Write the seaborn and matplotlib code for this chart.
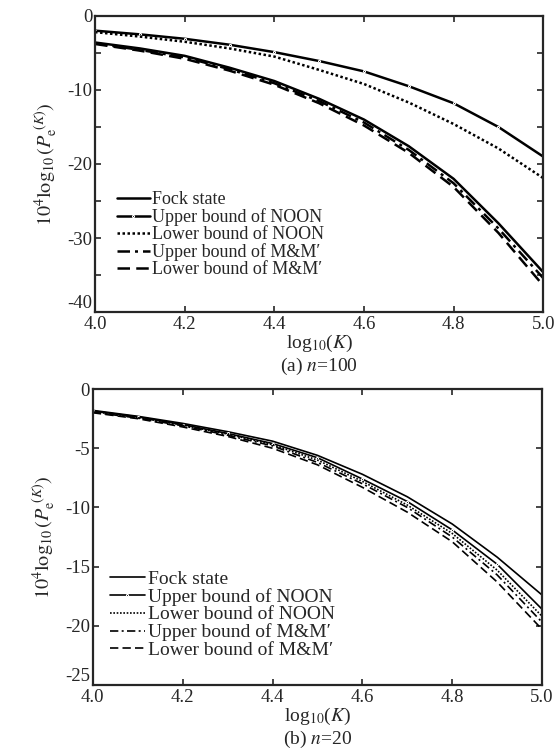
import numpy as np
import pandas as pd
import matplotlib.pyplot as plt
import seaborn as sns

sns.set_style('ticks')
plt.rcParams['font.family'] = ['Liberation Serif', 'DejaVu Serif']
plt.rcParams['mathtext.fontset'] = 'stix'
plt.rcParams['font.size'] = 13.5

# x axis: log10(K)
log_k = [4.0, 4.1, 4.2, 4.3, 4.4, 4.5, 4.6, 4.7, 4.8, 4.9, 5.0]

# (a) n=100
fock_100 = [-3.6, -4.4, -5.4, -7.0, -8.8, -11.2, -14.0, -17.6, -22.0, -28.0, -34.6]
noon_up_100 = [-2.0, -2.5, -3.1, -3.9, -4.9, -6.1, -7.5, -9.5, -11.8, -15.0, -19.0]
noon_lo_100 = [-2.2, -2.8, -3.5, -4.4, -5.5, -7.3, -9.2, -11.7, -14.6, -17.9, -21.9]
mm_up_100 = [-3.7, -4.6, -5.6, -7.2, -9.1, -11.5, -14.4, -18.1, -22.6, -28.7, -35.4]
mm_lo_100 = [-3.8, -4.7, -5.8, -7.4, -9.3, -11.8, -14.8, -18.5, -23.1, -29.3, -36.4]

# (b) n=20
fock_20 = [-1.8, -2.3, -2.9, -3.6, -4.4, -5.6, -7.2, -9.1, -11.4, -14.2, -17.4]
noon_up_20 = [-1.85, -2.35, -3.0, -3.75, -4.6, -5.8, -7.6, -9.5, -11.9, -14.8, -18.6]
noon_lo_20 = [-1.9, -2.4, -3.05, -3.8, -4.7, -6.0, -7.8, -9.8, -12.2, -15.3, -19.2]
mm_up_20 = [-1.95, -2.45, -3.1, -3.9, -4.8, -6.2, -8.0, -10.0, -12.5, -15.7, -19.7]
mm_lo_20 = [-2.0, -2.5, -3.2, -4.0, -5.0, -6.4, -8.3, -10.4, -12.9, -16.3, -20.3]

labels = ['Fock state', 'Upper bound of NOON', 'Lower bound of NOON',
          'Upper bound of M&M\u2032', 'Lower bound of M&M\u2032']
styles = [dict(linestyle='-'),
          dict(linestyle='-', marker='.', markersize=3),
          dict(linestyle=(0, (1, 1))),
          dict(linestyle=(0, (5, 2, 1.2, 2))),
          dict(linestyle=(0, (5, 2.5)))]

fig = plt.figure(figsize=(5.56, 7.54), dpi=100)
ax1 = fig.add_axes([0.171, 0.586, 0.806, 0.393])
ax2 = fig.add_axes([0.167, 0.0915, 0.808, 0.3925])


def draw(ax, series, lw, ylim, yticks, ylabels, caption, leg_anchor, leg_size):
    for vals, lab, st in zip(series, labels, styles):
        sns.lineplot(x=log_k, y=vals, ax=ax, color='black', linewidth=lw,
                     label=lab, **st)
    ax.set_xlim(4.0, 5.0)
    ax.set_ylim(*ylim)
    ax.set_xticks([4.0, 4.2, 4.4, 4.6, 4.8, 5.0])
    ax.set_xticklabels(['4.0', '4.2', '4.4', '4.6', '4.8', '5.0'])
    ax.set_yticks(yticks)
    ax.set_yticklabels(ylabels)
    ax.get_yticklabels()[0].set_va('bottom')
    ax.tick_params(direction='in', top=True, right=True, length=4, width=1.2,
                   pad=2, labelsize=13.5)
    ax.tick_params(axis='x', pad=3)
    for sp in ax.spines.values():
        sp.set_linewidth(1.6)
    ax.set_xlabel(r'log$_{10}$($K$)', fontsize=14, labelpad=0)
    ax.set_ylabel(r'$10^4\log_{10}(P_{\rm e}^{\ (K)})$', fontsize=14.5, labelpad=5)
    ax.text(0.5, -0.183, caption, transform=ax.transAxes, ha='center',
            va='center', fontsize=14)
    ax.legend(loc='lower left', bbox_to_anchor=leg_anchor, frameon=False,
              handlelength=1.8, handletextpad=0.15, labelspacing=0,
              borderpad=0, borderaxespad=0, fontsize=leg_size)


draw(ax1, [fock_100, noon_up_100, noon_lo_100, mm_up_100, mm_lo_100], 1.8,
     (-40, 0), list(range(-40, 1, 5)),
     ['-40', '', '-30', '', '-20', '', '-10', '', '0'],
     r'(a) $n$=100', (0.049, 0.115), 13)
draw(ax2, [fock_20, noon_up_20, noon_lo_20, mm_up_20, mm_lo_20], 1.2,
     (-25, 0), list(range(-25, 1, 5)),
     ['-25', '-20', '-15', '-10', '-5', '0'],
     r'(b) $n$=20', (0.038, 0.088), 14)

fig.savefig('out.png', dpi=100)
